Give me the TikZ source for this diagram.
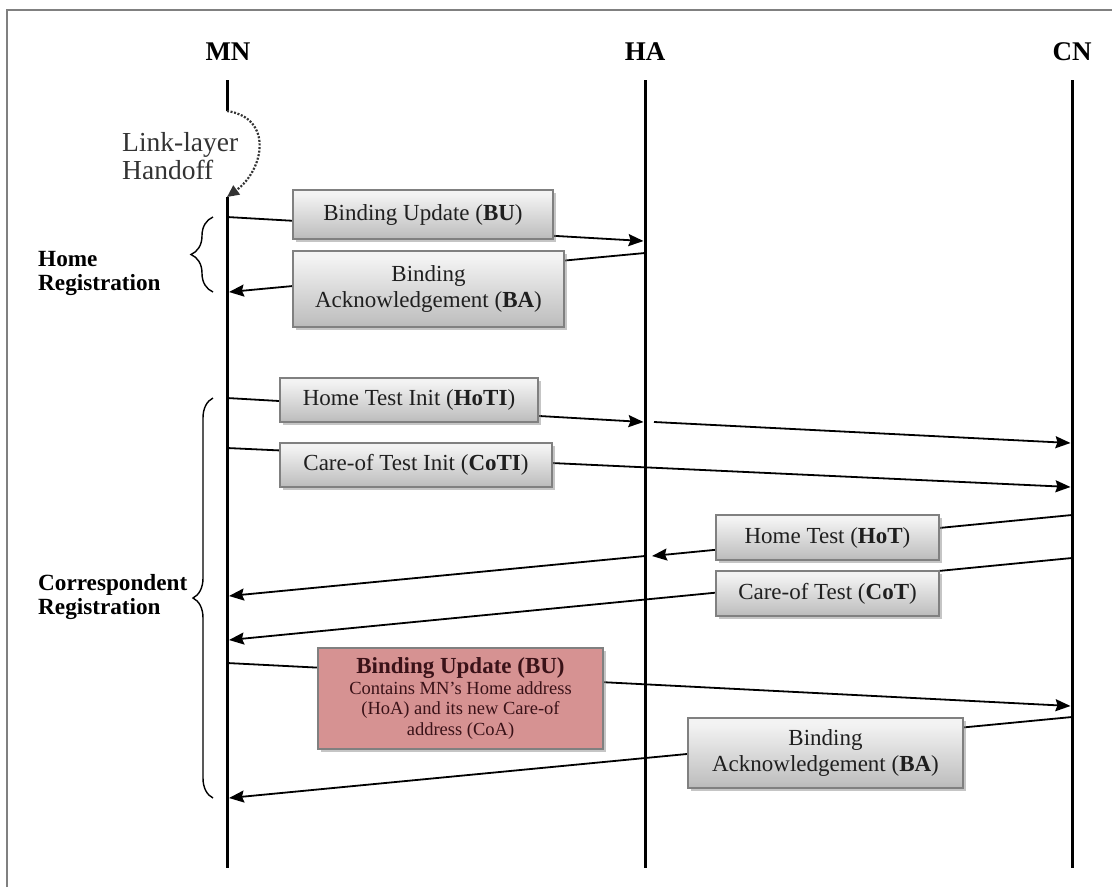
\documentclass[tikz,border=0pt]{standalone}
\usepackage{fontspec}
\setmainfont{Liberation Serif}
\usetikzlibrary{arrows.meta,shadows,decorations.pathreplacing}

% soft grey gradient of the message boxes (positions measured from the bottom)
\pgfdeclareverticalshading{msgshade}{100bp}{color(0bp)=(black!45); color(30bp)=(black!24); color(70bp)=(black!5); color(86bp)=(black!3); color(100bp)=(black!20)}
\definecolor{bupink}{RGB}{214,146,146}
\definecolor{butext}{RGB}{58,18,24}

\begin{document}
\begin{tikzpicture}[x=1pt,y=-1pt,
  head/.style={font=\fontsize{27}{28}\selectfont\bfseries, anchor=base, inner sep=0pt},
  lifeline/.style={line width=3pt},
  msg/.style={line width=1.8pt, -{Stealth[length=15pt,width=12pt,inset=2pt]}},
  boxbase/.style={draw=black!50, line width=1.6pt, align=center, inner sep=0pt,
    drop shadow={shadow xshift=3pt, shadow yshift=-3pt, fill=black!45, opacity=0.5}},
  msgbox/.style={boxbase, shading=msgshade, text=black!88,
    font=\fontsize{23}{26}\selectfont},
  pinkbox/.style={boxbase, fill=bupink, text=butext,
    font=\fontsize{18.5}{20.5}\selectfont},
  grouplbl/.style={font=\fontsize{23.2}{24}\selectfont\bfseries, anchor=west, align=left, inner sep=0pt},
  brace/.style={decorate, decoration={brace, amplitude=#1}, line width=1.4pt},
]
\useasboundingbox (0,0) rectangle (1112,887);

% frame edges
\draw[black!50, line width=2pt] (7,887) -- (7,9.5) -- (1112,9.5);

% entity headings
\node[head] (mnlbl) at (228,60) {MN};
\node[head] (halbl) at (645,60) {HA};
\node[head] (cnlbl) at (1072,60) {CN};

% lifelines
\coordinate (mn0) at (227,80);
\coordinate (mn1) at (227,111);
\coordinate (mn2) at (227,197);
\coordinate (mn3) at (227,868);
\coordinate (ha0) at (645,80);
\coordinate (ha3) at (645,868);
\coordinate (cn0) at (1072,80);
\coordinate (cn3) at (1072,868);
\draw[lifeline] (mn0) -- (mn1);
\draw[lifeline] (mn2) -- (mn3);
\draw[lifeline] (ha0) -- (ha3);
\draw[lifeline] (cn0) -- (cn3);

% link-layer handoff
\draw[black!80, line width=2.2pt, dash pattern=on 2pt off 1.6pt,
  -{Triangle[length=12pt,width=11pt]}]
  (mn1) .. controls (274,118) and (264,170) .. (mn2);
\node[font=\fontsize{27.5}{28}\selectfont, text=black!80, anchor=west, align=left, inner sep=0pt]
  (handoff) at (122,156) {Link-layer\\Handoff};

% message end points
\coordinate (bu1s) at (227,217);   \coordinate (bu1e) at (643.5,241);
\coordinate (ba1s) at (645,253);   \coordinate (ba1e) at (229,292);
\coordinate (hotias) at (227,398); \coordinate (hotiae) at (643.5,422);
\coordinate (hotibs) at (654,422); \coordinate (hotibe) at (1070.5,443);
\coordinate (cotis) at (227,448);  \coordinate (cotie) at (1070.5,487);
\coordinate (hotas) at (1072,515); \coordinate (hotae) at (652,556);
\coordinate (hotbs) at (645,556);  \coordinate (hotbe) at (229,596);
\coordinate (cots) at (1072,558);  \coordinate (cote) at (229,640);
\coordinate (bu2s) at (227,663);   \coordinate (bu2e) at (1070.5,706);
\coordinate (ba2s) at (1072,717);  \coordinate (ba2e) at (229,798);

% messages
\draw[msg] (bu1s) -- (bu1e);
\draw[msg] (ba1s) -- (ba1e);
\draw[msg] (hotias) -- (hotiae);
\draw[msg] (hotibs) -- (hotibe);
\draw[msg] (cotis) -- (cotie);
\draw[msg] (hotas) -- (hotae);
\draw[msg] (hotbs) -- (hotbe);
\draw[msg] (cots) -- (cote);
\draw[msg] (bu2s) -- (bu2e);
\draw[msg] (ba2s) -- (ba2e);

% message labels
\node[msgbox, minimum width=260pt, minimum height=49pt] (bu1) at (423,214.5)
  {Binding Update (\textbf{BU})};
\node[msgbox, minimum width=271pt, minimum height=76pt] (ba1) at (428.5,289)
  {Binding\\Acknowledgement (\textbf{BA})};
\node[msgbox, minimum width=258pt, minimum height=44pt] (hoti) at (409,400)
  {Home Test Init (\textbf{HoTI})};
\node[msgbox, minimum width=272pt, minimum height=44pt] (coti) at (416,465)
  {Care-of Test Init (\textbf{CoTI})};
\node[msgbox, minimum width=223pt, minimum height=45pt] (hot) at (827.5,537.5)
  {Home Test (\textbf{HoT})};
\node[msgbox, minimum width=223pt, minimum height=45pt] (cot) at (827.5,593.5)
  {Care-of Test (\textbf{CoT})};
\node[pinkbox, minimum width=285pt, minimum height=101pt] (bu2) at (460.5,698.5)
  {{\fontsize{23}{20.5}\selectfont\bfseries Binding Update (BU)}\\
   Contains MN's Home address\\
   (HoA) and its new Care-of\\
   address (CoA)};
\node[msgbox, minimum width=275pt, minimum height=70pt] (ba2) at (825.5,753)
  {Binding\\Acknowledgement (\textbf{BA})};

% phase braces
\coordinate (hrb) at (213,292);
\coordinate (hrt) at (213,217);
\coordinate (crb) at (213,798);
\coordinate (crt) at (213,398);
\draw[brace=22pt] (hrb) -- (hrt);
\draw[brace=20pt] (crb) -- (crt);
\node[grouplbl] (homereg) at (38,273) {Home\\Registration};
\node[grouplbl] (correg) at (38,597) {Correspondent\\Registration};
\end{tikzpicture}
\end{document}
